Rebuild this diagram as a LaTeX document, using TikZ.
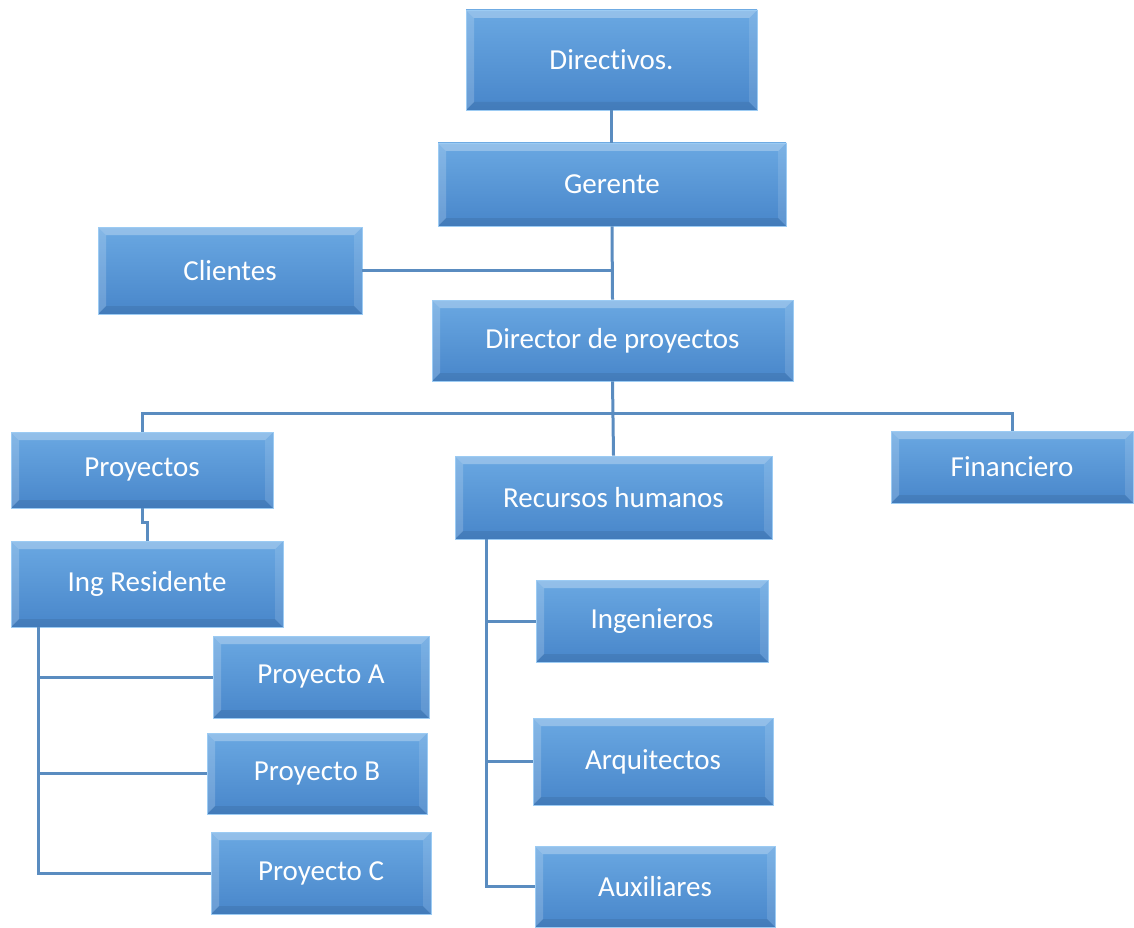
\documentclass[tikz,border=0pt]{standalone}
\usepackage{fontspec}
\setmainfont{Carlito}[Ligatures=NoCommon]
\usetikzlibrary{calc}
\definecolor{boxtop}{HTML}{6AA8E2}
\definecolor{boxbot}{HTML}{4886CA}
\definecolor{boxedge}{HTML}{9CCBF3}
\definecolor{linkcol}{HTML}{5A8CC0}
\tikzset{
  bevel/.style={path picture={
    \def\bv{8pt}
    \coordinate (pnw) at (path picture bounding box.north west);
    \coordinate (pne) at (path picture bounding box.north east);
    \coordinate (psw) at (path picture bounding box.south west);
    \coordinate (pse) at (path picture bounding box.south east);
    % top facet
    \fill[white,opacity=0.28] (pnw) -- (pne) -- ([shift={(-\bv,-\bv)}]pne) -- ([shift={(\bv,-\bv)}]pnw) -- cycle;
    % left facet
    \fill[white,opacity=0.18] (pnw) -- ([shift={(\bv,-\bv)}]pnw) -- ([shift={(\bv,\bv)}]psw) -- (psw) -- cycle;
    % right facet
    \fill[white,opacity=0.12] (pne) -- ([shift={(-\bv,-\bv)}]pne) -- ([shift={(-\bv,\bv)}]pse) -- (pse) -- cycle;
    % bottom facet
    \fill[black,opacity=0.08] (psw) -- ([shift={(\bv,\bv)}]psw) -- ([shift={(-\bv,\bv)}]pse) -- (pse) -- cycle;
  }},
  orgbox/.style={bevel, inner sep=0pt, top color=boxtop, bottom color=boxbot,
    draw=boxedge, line width=0.8pt, text=white,
    font=\fontsize{29}{34}\selectfont},
  link/.style={draw=linkcol, line width=3pt}
}
\begin{document}
\begin{tikzpicture}[x=1pt,y=-1pt]
\useasboundingbox (0,0) rectangle (1134,928);
% boxes
\node[orgbox, minimum width=291, minimum height=100] (dir) at (611.5,60) {Directivos.};
\node[orgbox, minimum width=348, minimum height=83] (ger) at (612,184.5) {Gerente};
\node[orgbox, minimum width=264, minimum height=87] (cli) at (230,270.5) {Clientes};
\node[orgbox, minimum width=361, minimum height=81] (dp) at (612.5,340.5) {Director de proyectos};
\node[orgbox, minimum width=262, minimum height=76] (proy) at (142,470) {Proyectos};
\node[orgbox, minimum width=317, minimum height=83] (rh) at (613.5,497.5) {Recursos humanos};
\node[orgbox, minimum width=242, minimum height=72] (fin) at (1012,467) {Financiero};
\node[orgbox, minimum width=272, minimum height=86] (ing) at (147,584) {Ing Residente};
\node[orgbox, minimum width=216, minimum height=82] (pa) at (321,677) {Proyecto A};
\node[orgbox, minimum width=220, minimum height=81] (pb) at (317,773.5) {Proyecto B};
\node[orgbox, minimum width=220, minimum height=82] (pc) at (321,873) {Proyecto C};
\node[orgbox, minimum width=232, minimum height=82] (ingn) at (652,621) {Ingenieros};
\node[orgbox, minimum width=240, minimum height=87] (arq) at (653,761.5) {Arquitectos};
\node[orgbox, minimum width=240, minimum height=81] (aux) at (655,886.5) {Auxiliares};
% connection points
\coordinate (bus) at (0,413);
\coordinate (ingL) at (38,627);
\coordinate (rhL) at (486,539);
% connectors
\draw[link] (dir.south) -- (dir.south |- ger.north);
\draw[link] (ger.south) -- (dp.north);
\draw[link] (cli.east) -- (cli.east -| ger.south);
\draw[link] (proy.north) -- (proy.north |- bus) -- (fin.north |- bus) -- (fin.north);
\draw[link] (dp.south) -- (rh.north);
\draw[link] (proy.south) -- ++(0,14) -| (ing.north);
\draw[link] (ingL) |- (pc.west);
\draw[link] (ingL |- pa.west) -- (pa.west);
\draw[link] (ingL |- pb.west) -- (pb.west);
\draw[link] (rhL) |- (aux.west);
\draw[link] (rhL |- ingn.west) -- (ingn.west);
\draw[link] (rhL |- arq.west) -- (arq.west);
\end{tikzpicture}
\end{document}
